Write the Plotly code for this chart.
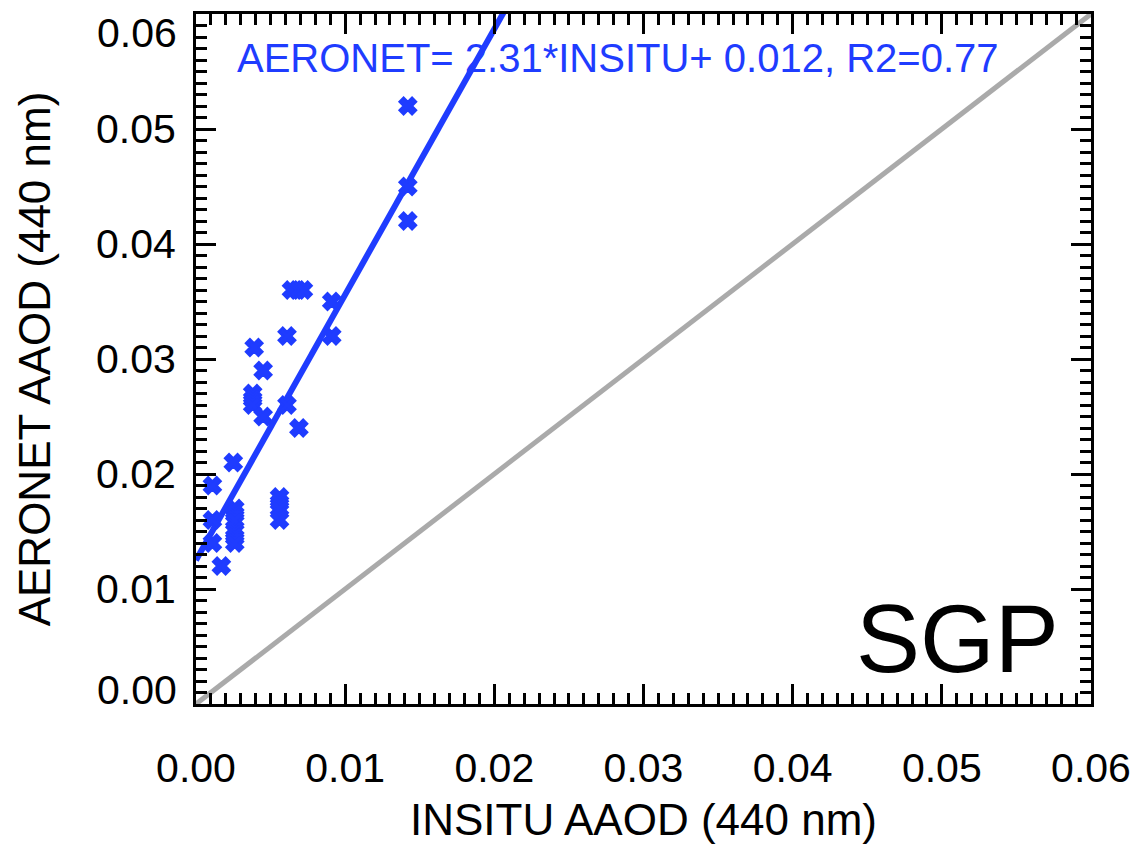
import plotly.graph_objects as go

# Data
insitu = [0.0142, 0.0142, 0.0142, 0.0091, 0.0091, 0.0064, 0.0068, 0.0072,
          0.0061, 0.0039, 0.0045, 0.0038, 0.0038, 0.0038, 0.0045, 0.0061,
          0.0069, 0.0025, 0.0011, 0.0011, 0.0011, 0.0026, 0.0026, 0.0026,
          0.0026, 0.0026, 0.0026, 0.0056, 0.0056, 0.0056, 0.0056, 0.0017]
aeronet = [0.052, 0.045, 0.042, 0.035, 0.032, 0.036, 0.036, 0.036,
           0.032, 0.031, 0.029, 0.027, 0.0265, 0.026, 0.025, 0.026,
           0.024, 0.021, 0.019, 0.016, 0.014, 0.017, 0.0165, 0.016,
           0.015, 0.0145, 0.014, 0.018, 0.0175, 0.017, 0.016, 0.012]
fit_slope = 2.31
fit_intercept = 0.0125
axis_range = [0.0, 0.06]
tick_vals = [0.00, 0.01, 0.02, 0.03, 0.04, 0.05, 0.06]
tick_text = ["0.00", "0.01", "0.02", "0.03", "0.04", "0.05", "0.06"]
fit_label = "AERONET= 2.31*INSITU+ 0.012, R2=0.77"
site = "SGP"

BLUE = "#1f3cff"
GRAY = "#aaaaaa"
FONT = "Liberation Sans, Arial, sans-serif"

fig = go.Figure()

# 1:1 line
fig.add_trace(go.Scatter(x=axis_range, y=axis_range, mode="lines",
                         line=dict(color=GRAY, width=5), showlegend=False,
                         hoverinfo="skip"))

# fit line
fx = axis_range
fy = [fit_slope * v + fit_intercept for v in fx]
fig.add_trace(go.Scatter(x=fx, y=fy, mode="lines",
                         line=dict(color=BLUE, width=6), showlegend=False,
                         hoverinfo="skip"))

# points
fig.add_trace(go.Scatter(x=insitu, y=aeronet, mode="markers",
                         marker=dict(symbol="x", size=15, color=BLUE,
                                     line=dict(width=2, color=BLUE)),
                         showlegend=False))

axis_common = dict(
    range=axis_range, tickvals=tick_vals,
    ticks="inside", ticklen=20, tickwidth=3, tickcolor="black",
    showline=True, linewidth=3, linecolor="black", mirror="allticks",
    showgrid=False, zeroline=False, automargin=False,
    ticklabeloverflow="allow",
    tickfont=dict(family=FONT, size=41, color="black"),
    minor=dict(dtick=0.001, ticks="inside", ticklen=11, tickwidth=2.5,
               tickcolor="black", showgrid=False),
)

fig.update_xaxes(**axis_common, ticktext=tick_text, ticklabelstandoff=26,
                 title=dict(text="INSITU AAOD (440 nm)",
                            font=dict(family=FONT, size=44, color="black"),
                            standoff=14))

# y end labels are nudged inward like the reference; inner ones stay on axis
y_tick_text = ["" if i in (0, len(tick_text) - 1) else t
               for i, t in enumerate(tick_text)]
fig.update_yaxes(**axis_common, ticktext=y_tick_text, ticklabelstandoff=9,
                 title=dict(text="AERONET AAOD (440 nm)",
                            font=dict(family=FONT, size=44, color="black"),
                            standoff=32))
for i, shift in ((0, 14), (len(tick_text) - 1, -19)):
    fig.add_annotation(x=0, xref="paper", y=tick_vals[i], yref="y",
                       xanchor="right", yanchor="middle", xshift=-17,
                       yshift=shift, text=tick_text[i], showarrow=False,
                       font=dict(family=FONT, size=41, color="black"))

fig.add_annotation(x=0, y=1, xref="paper", yref="paper",
                   xanchor="left", yanchor="top", xshift=39, yshift=-20,
                   text=fit_label, showarrow=False,
                   font=dict(family=FONT, size=40, color=BLUE))
fig.add_annotation(x=1, y=0, xref="paper", yref="paper",
                   xanchor="right", yanchor="bottom", xshift=-30, yshift=10,
                   text=site, showarrow=False,
                   font=dict(family=FONT, size=96, color="black"))

fig.update_layout(
    width=1140, height=848,
    margin=dict(l=196, r=49, t=14, b=144),
    plot_bgcolor="white", paper_bgcolor="white",
    font=dict(family=FONT),
)

fig.write_html("out.html", config={"displayModeBar": False},
               post_script="document.body.style.margin='0';"
                           "document.body.style.overflow='hidden';")
